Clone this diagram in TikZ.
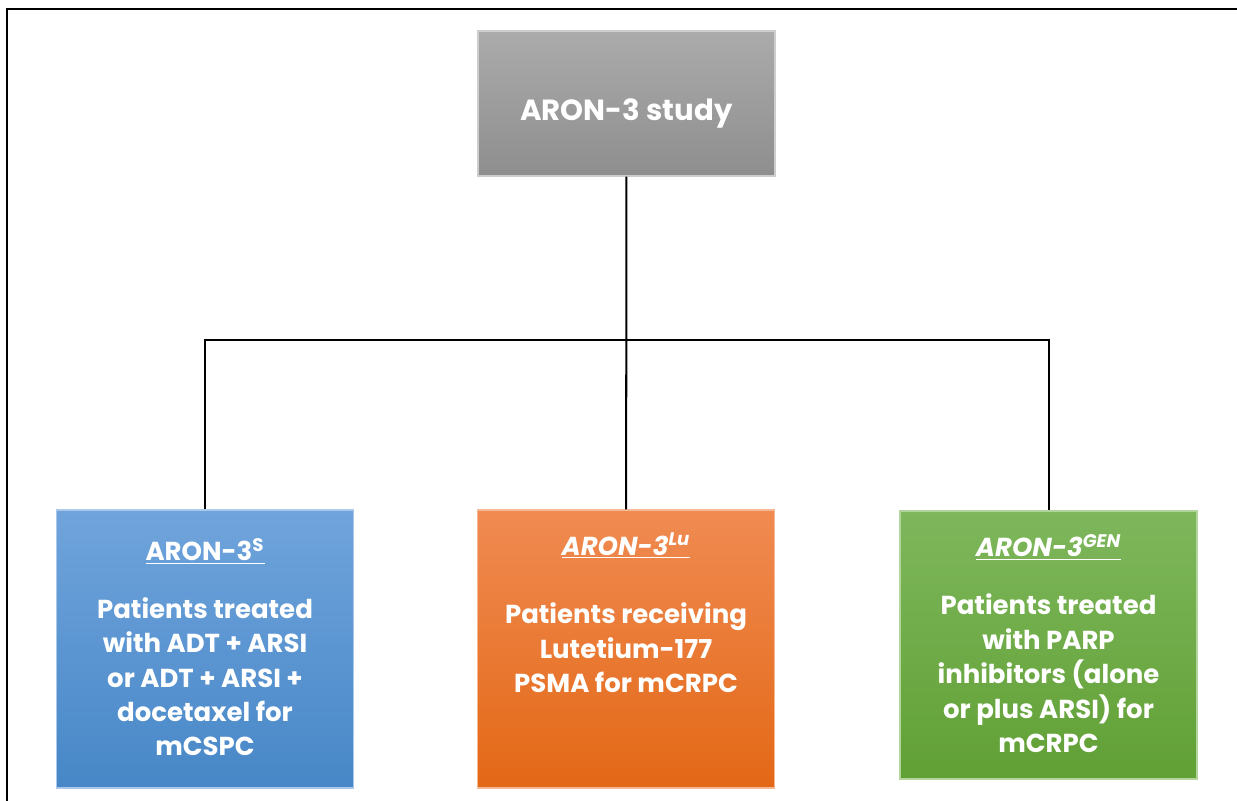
\documentclass[tikz,border=0pt]{standalone}
\usepackage{fontspec}
\setmainfont{Poppins}
\usetikzlibrary{positioning}
\definecolor{graytop}{HTML}{ABABAB}
\definecolor{graybot}{HTML}{8E8E8E}
\definecolor{bluetop}{HTML}{70A4DC}
\definecolor{bluebot}{HTML}{4787C7}
\definecolor{orangetop}{HTML}{F08B52}
\definecolor{orangebot}{HTML}{E36816}
\definecolor{greentop}{HTML}{7EB75C}
\definecolor{greenbot}{HTML}{61A035}
\begin{document}
\begin{tikzpicture}[x=0.02cm,y=-0.02cm,
    panel/.style={rectangle,draw=#1top!60!white,line width=0.8pt,
      top color=#1top,bottom color=#1bot,minimum width=5.94cm,minimum height=5.56cm},
    head/.style={panel=gray,minimum height=2.9cm,text=white,
      text height=23pt,text depth=3.5pt,
      font=\fontsize{16.6}{20}\selectfont\bfseries},
    txt/.style={text=white,align=center,inner sep=0pt,
      font=\fontsize{14.8}{19.6}\selectfont\bfseries},
    link/.style={line width=1.15pt}]
    \useasboundingbox (0,0) rectangle (1237,801);
    \draw[line width=1.4pt] (7,801) -- (7,9) -- (1237,9);

    \node[head] (study) at (626.5,103.5) {ARON-3 study};
    \node[panel=blue] (arons) at (205,649) {};
    \node[panel=orange] (aronlu) at (626,649) {};
    \node[panel=green,minimum height=5.36cm] (arongen) at (1048.5,645) {};
    \coordinate (hub) at (626,340);

    \node[txt,below=0.57cm of arons.north] (arons text)
      {\underline{ARON-3\textsuperscript{S}}\\[0.47cm]
       Patients treated\\with ADT + ARSI\\or ADT + ARSI +\\docetaxel for\\mCSPC};
    \node[txt,below=0.47cm of aronlu.north] (aronlu text)
      {\underline{\itshape ARON-3\textsuperscript{Lu}}\\[0.68cm]
       Patients receiving\\Lutetium-177\\PSMA for mCRPC};
    \node[txt,below=0.47cm of arongen.north] (arongen text)
      {\underline{\itshape ARON-3\textsuperscript{GEN}}\\[0.48cm]
       Patients treated\\with PARP\\inhibitors (alone\\or plus ARSI) for\\mCRPC};

    \draw[link] (study) -- (aronlu);
    \draw[link] (arons.north) |- (hub) -| (arongen.north);
\end{tikzpicture}
\end{document}
